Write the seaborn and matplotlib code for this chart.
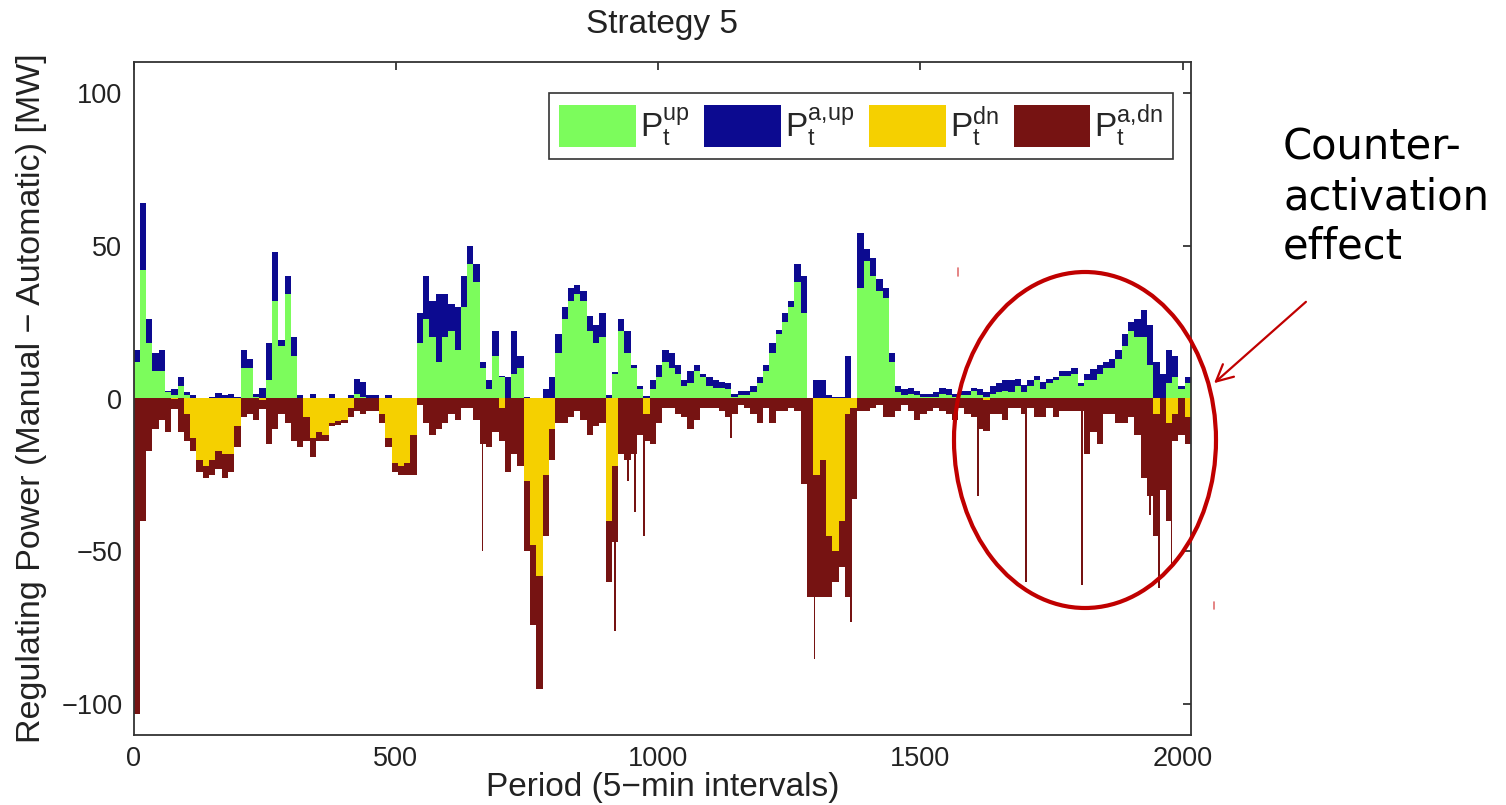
import numpy as np
import matplotlib
matplotlib.use("Agg")
import matplotlib.pyplot as plt
from matplotlib.patches import Ellipse, FancyArrowPatch, Patch
from matplotlib.lines import Line2D
import seaborn as sns

# One value per hour (12 five-minute periods), MW
BIN = 12
p_up = [12, 42, 18, 9, 9, 2, 1, 4, 1, 0, 0, 0, 0, 0, 0, 0, 0, 10, 10, 0.5, 0, 6, 32, 17, 34, 14, 0, 0,
        0, 0, 0, 0, 0, 0, 0, 1.5, 0.5, 0, 0, 0, 0, 0, 0, 0, 0, 18, 26, 20, 12, 20, 22, 16, 30, 44, 38, 10,
        3, 14, 7, 0, 8, 10, 0, 0, 0, 0, 0, 15, 26, 32, 34, 32, 22, 18, 20, 0, 8, 22, 15, 10, 3, 0, 3, 7,
        12, 10, 8, 4, 5, 9, 7, 4, 3.5, 3.5, 3, 0.5, 1, 1, 2, 5, 9, 15, 21, 25, 30, 38, 28, 0, 0, 0, 0, 0,
        0, 0, 0, 36, 45, 40, 35, 33, 12, 2, 1, 1.5, 1, 0.5, 0.5, 0.5, 1.5, 1, 0.5, 1, 1, 2.5, 1, 0.5, 1.5, 2, 2.5, 2,
        4, 2, 4, 6, 3, 5, 6, 7.5, 7.5, 8, 4, 6, 6, 8, 10, 10, 13, 17, 22, 20, 20, 11, 0, 0, 5, 7, 3, 5]
p_a_up = [4, 22, 8, 6, 7, 0.3, 2, 3, 1, 1, 0.3, 0, 0.6, 1.7, 1, 1.5, 0.5, 6, 3, 1, 3.5, 12, 16, 2, 6, 6, 1, 0,
          1.5, 0.3, 0, 1.5, 0, 0, 1, 5, 5, 1, 1, 0, 1, 0, 0.3, 0.3, 0, 10, 14, 12, 22, 14, 9, 14, 10, 6, 6, 2,
          3, 8, 0.5, 7, 14, 4, 0.5, 0, 0, 3, 7, 6, 4, 4, 3, 3, 5, 6, 8, 1, 0.5, 4, 7, 1, 1, 0.8, 3, 4,
          4, 5, 3, 2, 4, 2, 1, 3, 2.5, 2, 2, 1, 1.5, 1.5, 2, 2, 2, 3, 1.5, 3, 2, 6, 12, 0, 6, 6, 1, 0.5,
          0.5, 14, 0, 18, 4, 6, 4, 3, 3, 2, 2, 2, 1.5, 1, 1, 1.5, 2, 2, 1, 1.5, 1.5, 1, 2, 1.5, 2.5, 3, 3.5, 4,
          2.5, 2.5, 2, 1.5, 2.5, 1.5, 1, 1.5, 1.5, 2, 1, 2, 3.5, 3, 2, 3, 3, 4, 3, 6, 9, 13, 12, 8, 11, 7, 1, 2]
p_dn = [0, 0, 0, 0, 0, 0, 0.3, 0, 5, 13, 20, 22, 20, 17, 18, 18, 9, 0, 0, 0, 0.5, 0, 0, 0, 0, 0, 0, 6,
        13, 11, 12, 8, 7.5, 7, 3, 0, 0, 0, 0, 5, 13, 21, 22, 21, 12, 0, 0, 0, 0, 0, 0, 0, 0, 0, 0, 0,
        0, 0, 3, 0, 0, 0, 27, 48, 58, 25, 10, 0, 0, 0, 0, 0, 0, 0, 0, 40, 22, 0, 0, 0, 0, 5, 0, 0,
        0, 0, 0, 0, 0, 0, 0, 0, 0, 0, 0, 0, 0, 0, 0, 0, 0, 0, 0, 0, 0, 0, 0, 0, 25, 20, 45, 50,
        40, 5, 3, 0, 0, 0, 0, 0, 0, 0, 0, 0, 0, 0, 0, 0, 0, 0, 0, 0, 0, 0, 0, 0.5, 0, 0, 0, 0,
        0, 0, 0, 0, 0, 0, 0, 0, 0, 0, 0, 0, 0, 0, 0, 0, 0, 0, 0, 0, 0, 0, 5, 0, 8, 5, 0, 6]
p_a_dn = [103, 40, 17, 10, 7, 11, 3, 11, 9, 4, 4, 4, 5, 6, 8, 6, 7, 6, 5, 7, 3, 15, 10, 5, 8, 14, 16, 8,
          6, 3, 2, 1, 1, 1, 3, 4, 5, 4, 4, 3, 3, 3, 3, 4, 13, 2, 8, 12, 10, 8, 5, 7, 3, 3, 7, 15,
          16, 11, 11, 24, 18, 22, 23, 26, 37, 20, 10, 8, 8, 6, 4, 7, 12, 9, 8, 20, 25, 18, 20, 18, 12, 9, 15, 8,
          3, 3, 5, 6, 10, 7, 3, 3, 3, 4, 6, 5, 2, 3, 5, 8, 3, 8, 4, 4, 3, 4, 28, 65, 40, 45, 20, 10,
          15, 60, 30, 4, 4, 3, 2, 6, 6, 4, 2, 4, 7, 5, 4, 3, 4, 5, 7, 3, 5, 6, 10, 10, 5, 5, 7, 3,
          3, 5, 3, 6, 6, 3, 6, 4, 4, 4, 4, 18, 11, 15, 5, 5, 8, 8, 6, 12, 26, 32, 40, 30, 32, 9, 12, 9]

# Short five-minute activations of automatic down-regulation
spike_period = [665, 918, 943, 956, 973, 1139, 1298, 1368, 1610, 1701, 1808, 1938, 1955, 1979]
spike_a_dn = [50, 54, 27, 37, 40, 13, 60, 70, 32, 60, 61, 38, 57, 47]

GREEN = "#7cfc5c"
BLUE = "#0c0a90"
YELLOW = "#f5d000"
DARKRED = "#761312"
ANNOT = "#c00000"
INK = "#222222"

sns.set_style("white")
plt.rcParams["font.family"] = ["Liberation Sans", "DejaVu Sans"]
plt.rcParams["mathtext.fontset"] = "custom"
plt.rcParams["mathtext.rm"] = "Liberation Sans"
plt.rcParams["mathtext.it"] = "Liberation Sans"

W, H = 1506, 805
fig = plt.figure(figsize=(W / 100, H / 100), dpi=100)
ax = fig.add_axes([133.5 / W, 1 - 735 / H, (1191 - 133.5) / W, (735 - 62) / H])

up = np.array(p_up, float)
aup = np.array(p_a_up, float)
dn = np.array(p_dn, float)
adn = np.array(p_a_dn, float)
start = np.arange(len(up)) * BIN

kw = dict(width=BIN, align="edge", linewidth=0)
ax.bar(start, up, color=GREEN, **kw)
ax.bar(start, aup, bottom=up, color=BLUE, **kw)
ax.bar(start, -dn, color=YELLOW, **kw)
ax.bar(start, -adn, bottom=-dn, color=DARKRED, **kw)

sp = np.array(spike_period)
ax.bar(sp, -np.array(spike_a_dn, float), bottom=-dn[sp // BIN], width=3,
       align="center", color=DARKRED, linewidth=0)

ax.set_xlim(0, 2016)
ax.set_ylim(-110, 110)
ax.set_xticks([0, 500, 1000, 1500, 2000])
ax.set_yticks([-100, -50, 0, 50, 100])
ax.tick_params(direction="in", length=6, width=1.2, top=True, right=True,
               labelsize=19.5, colors=INK, pad=8)
for s in ax.spines.values():
    s.set_color("#333333")
    s.set_linewidth(1.3)

ax.set_xlabel("Period (5\u2212min intervals)", fontsize=24, labelpad=0, color=INK)
ax.set_ylabel("Regulating Power (Manual \u2212 Automatic) [MW]", fontsize=24.5, labelpad=10, color=INK)
fig.text(662 / W, 1 - 25 / H, "Strategy 5", ha="center", va="center", fontsize=24, color=INK)

handles = [Patch(facecolor=c, edgecolor="none") for c in (GREEN, BLUE, YELLOW, DARKRED)]
labels = [r"$\mathrm{P}_\mathrm{t}^\mathrm{up}$", r"$\mathrm{P}_\mathrm{t}^\mathrm{a{,}up}$",
          r"$\mathrm{P}_\mathrm{t}^\mathrm{dn}$", r"$\mathrm{P}_\mathrm{t}^\mathrm{a{,}dn}$"]
leg = ax.legend(handles, labels, ncol=4, loc="upper right", bbox_to_anchor=(0.983, 0.954),
                borderaxespad=0, fontsize=24, handlelength=2.3, handleheight=1.55,
                handletextpad=0.12, columnspacing=0.45, borderpad=0.3,
                fancybox=False, framealpha=1, edgecolor="#333333")
leg.get_frame().set_linewidth(1.2)

# Annotation in figure pixel space
to_fig = lambda x, y: (x / W, 1 - y / H)
ell = Ellipse(to_fig(1085, 440), 262 / W, 336 / H, transform=fig.transFigure,
              fill=False, edgecolor=ANNOT, linewidth=3)
fig.add_artist(ell)
arr = FancyArrowPatch(to_fig(1308, 300), to_fig(1212, 385), transform=fig.transFigure,
                      arrowstyle="->,head_length=12,head_width=6", color=ANNOT, linewidth=1.6)
fig.add_artist(arr)
for (x0, y0), (x1, y1) in [((958, 268), (958, 276)), ((1214, 602), (1214, 609))]:
    fig.add_artist(Line2D([x0 / W, x1 / W], [1 - y0 / H, 1 - y1 / H],
                          transform=fig.transFigure, color="#e07070", linewidth=1.2))
fig.text(1283 / W, 1 - 127 / H, "Counter-\nactivation\neffect", ha="left", va="top",
         fontsize=30, family="DejaVu Sans", color="black", linespacing=1.22)

fig.savefig("out.png", dpi=100)
